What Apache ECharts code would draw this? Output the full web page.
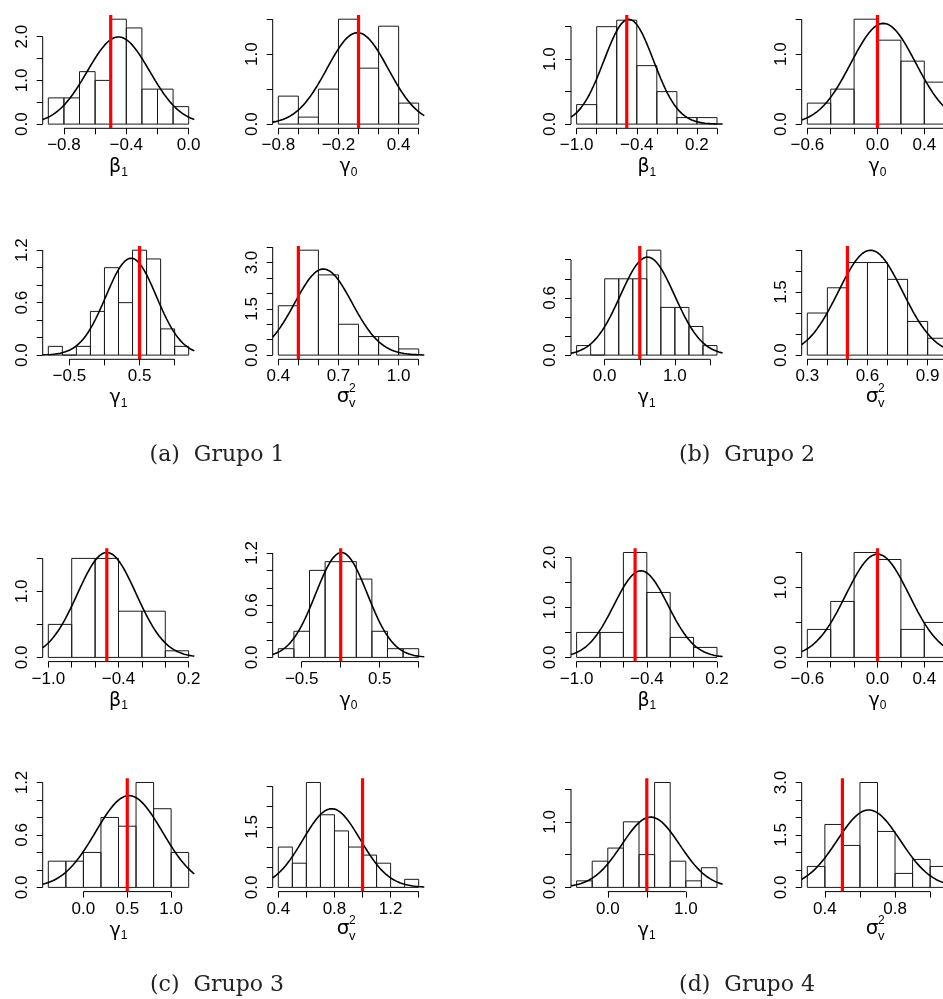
<!DOCTYPE html>
<html><head><meta charset="utf-8">
<script src="https://cdn.jsdelivr.net/npm/echarts@6/dist/echarts.min.js"></script>
<style>html,body{margin:0;padding:0;background:#fff}#c{width:943px;height:999px}</style>
</head><body><div id="c"></div>
<script>
// ---------- DATA ----------
// Panel order inside each group: beta1, gamma0, gamma1, sigma2_v
const axisSymbols = [['β','1'],['γ','0'],['γ','1'],['σ','v','2']];
const captions = ['(a)  Grupo 1','(b)  Grupo 2','(c)  Grupo 3','(d)  Grupo 4'];

// Group 1
const g1Breaks = [
  [-0.9,-0.8,-0.7,-0.6,-0.5,-0.4,-0.3,-0.2,-0.1,0.0],
  [-0.8,-0.6,-0.4,-0.2,0.0,0.2,0.4,0.6],
  [-0.8,-0.6,-0.4,-0.2,0.0,0.2,0.4,0.6,0.8,1.0,1.2],
  [0.4,0.5,0.6,0.7,0.8,0.9,1.0,1.1]
];
const g1Density = [
  [0.6,0.6,1.2,1.0,2.4,2.2,0.8,0.8,0.4],
  [0.4,0.1,0.5,1.5,0.8,1.4,0.3],
  [0.1,0.0,0.1,0.5,1.0,0.6,1.2,1.1,0.3,0.1],
  [1.6,3.4,2.6,1.0,0.6,0.6,0.2]
];
const g1TrueValue = [-0.5, 0.0, 0.5, 0.5];
const g1CurveMean = [-0.45, -0.01, 0.38, 0.625];
const g1CurveSd   = [0.20, 0.305, 0.36, 0.143];
const g1XTicks  = [[-0.8,-0.6,-0.4,-0.2,0.0],[-0.8,-0.6,-0.4,-0.2,0.0,0.2,0.4,0.6],[-0.5,0.0,0.5,1.0],[0.4,0.5,0.6,0.7,0.8,0.9,1.0,1.1]];
const g1XLabels = [[-0.8,-0.4,0.0],[-0.8,-0.2,0.4],[-0.5,0.5],[0.4,0.7,1.0]];
const g1YTicks  = [[0,0.5,1.0,1.5,2.0],[0,0.5,1.0,1.5],[0,0.2,0.4,0.6,0.8,1.0,1.2],[0,0.5,1.0,1.5,2.0,2.5,3.0,3.5]];
const g1YLabels = [[0,1.0,2.0],[0,1.0],[0,0.6,1.2],[0,1.5,3.0]];

// Group 2
const g2Breaks = [
  [-1.0,-0.8,-0.6,-0.4,-0.2,0.0,0.2,0.4],
  [-0.6,-0.4,-0.2,0.0,0.2,0.4,0.6],
  [-0.4,-0.2,0.0,0.2,0.4,0.6,0.8,1.0,1.2,1.4,1.6],
  [0.3,0.4,0.5,0.6,0.7,0.8,0.9,1.0]
];
const g2Density = [
  [0.3,1.5,1.6,0.9,0.5,0.1,0.1],
  [0.3,0.5,1.5,1.2,0.9,0.6],
  [0.1,0.0,0.8,0.8,0.8,1.1,0.5,0.5,0.3,0.1],
  [1.0,1.6,2.2,2.2,1.8,0.8,0.4]
];
const g2TrueValue = [-0.5, 0.0, 0.5, 0.5];
const g2CurveMean = [-0.48, 0.05, 0.61, 0.615];
const g2CurveSd   = [0.247, 0.277, 0.388, 0.16];
const g2XTicks  = [[-1.0,-0.8,-0.6,-0.4,-0.2,0.0,0.2,0.4],[-0.6,-0.4,-0.2,0.0,0.2,0.4,0.6],[0.0,0.5,1.0,1.5],[0.3,0.4,0.5,0.6,0.7,0.8,0.9,1.0]];
const g2XLabels = [[-1.0,-0.4,0.2],[-0.6,0.0,0.4],[0.0,1.0],[0.3,0.6,0.9]];
const g2YTicks  = [[0,0.5,1.0,1.5],[0,0.5,1.0,1.5],[0,0.2,0.4,0.6,0.8,1.0],[0,0.5,1.0,1.5,2.0,2.5]];
const g2YLabels = [[0,1.0],[0,1.0],[0,0.6],[0,1.5]];

// Group 3
const g3Breaks = [
  [-1.0,-0.8,-0.6,-0.4,-0.2,0.0,0.2],
  [-0.8,-0.6,-0.4,-0.2,0.0,0.2,0.4,0.6,0.8,1.0],
  [-0.4,-0.2,0.0,0.2,0.4,0.6,0.8,1.0,1.2],
  [0.4,0.5,0.6,0.7,0.8,0.9,1.0,1.1,1.2,1.3,1.4]
];
const g3Density = [
  [0.5,1.5,1.5,0.7,0.7,0.1],
  [0.1,0.3,1.0,1.1,1.1,0.9,0.3,0.1,0.1],
  [0.3,0.3,0.4,0.8,0.7,1.2,0.9,0.4],
  [1.0,0.6,2.6,1.8,1.4,1.0,0.8,0.6,0.0,0.2]
];
const g3TrueValue = [-0.5, 0.0, 0.5, 1.0];
const g3CurveMean = [-0.5, 0.01, 0.52, 0.78];
const g3CurveSd   = [0.251, 0.331, 0.38, 0.2045];
const g3XTicks  = [[-1.0,-0.8,-0.6,-0.4,-0.2,0.0,0.2],[-0.5,0.0,0.5,1.0],[0.0,0.5,1.0],[0.4,0.6,0.8,1.0,1.2,1.4]];
const g3XLabels = [[-1.0,-0.4,0.2],[-0.5,0.5],[0.0,0.5,1.0],[0.4,0.8,1.2]];
const g3YTicks  = [[0,0.5,1.0,1.5],[0,0.2,0.4,0.6,0.8,1.0,1.2],[0,0.2,0.4,0.6,0.8,1.0,1.2],[0,0.5,1.0,1.5,2.0,2.5]];
const g3YLabels = [[0,1.0],[0,0.6,1.2],[0,0.6,1.2],[0,1.5]];

// Group 4
const g4Breaks = [
  [-1.0,-0.8,-0.6,-0.4,-0.2,0.0,0.2],
  [-0.6,-0.4,-0.2,0.0,0.2,0.4,0.6],
  [-0.4,-0.2,0.0,0.2,0.4,0.6,0.8,1.0,1.2,1.4],
  [0.3,0.4,0.5,0.6,0.7,0.8,0.9,1.0,1.1]
];
const g4Density = [
  [0.5,0.5,2.1,1.3,0.4,0.2],
  [0.4,0.8,1.5,1.4,0.4,0.5],
  [0.1,0.4,0.6,1.0,0.5,1.6,0.4,0.1,0.3],
  [0.6,1.8,1.2,3.0,1.6,0.4,0.8,0.6]
];
const g4TrueValue = [-0.5, 0.0, 0.5, 0.5];
const g4CurveMean = [-0.45, 0.0, 0.55, 0.65];
const g4CurveSd   = [0.23, 0.27, 0.372, 0.18];
const g4XTicks  = [[-1.0,-0.8,-0.6,-0.4,-0.2,0.0,0.2],[-0.6,-0.4,-0.2,0.0,0.2,0.4,0.6],[0.0,0.5,1.0],[0.4,0.6,0.8,1.0]];
const g4XLabels = [[-1.0,-0.4,0.2],[-0.6,0.0,0.4],[0.0,1.0],[0.4,0.8]];
const g4YTicks  = [[0,0.5,1.0,1.5,2.0],[0,0.5,1.0,1.5],[0,0.5,1.0,1.5],[0,0.5,1.0,1.5,2.0,2.5,3.0]];
const g4YLabels = [[0,1.0,2.0],[0,1.0],[0,1.0],[0,1.5,3.0]];

// ---------- LAYOUT ----------
const panelW = 151.6, panelH = 113.3;
const colLeft = [42.7, 272.7, 571.0, 801.7];
const rowTop  = [15.0, 246.0, 548.3, 778.3];
const captionX = [217, 747, 217, 747];
const captionY = [455, 455, 985, 985];

const groups = [
  [g1Breaks,g1Density,g1TrueValue,g1CurveMean,g1CurveSd,g1XTicks,g1XLabels,g1YTicks,g1YLabels],
  [g2Breaks,g2Density,g2TrueValue,g2CurveMean,g2CurveSd,g2XTicks,g2XLabels,g2YTicks,g2YLabels],
  [g3Breaks,g3Density,g3TrueValue,g3CurveMean,g3CurveSd,g3XTicks,g3XLabels,g3YTicks,g3YLabels],
  [g4Breaks,g4Density,g4TrueValue,g4CurveMean,g4CurveSd,g4XTicks,g4XLabels,g4YTicks,g4YLabels]
];

const fmt = v => (v < -1e-9 ? '\u2212' : '') + Math.abs(v).toFixed(1);
const tickFont = {fontSize:17, fontFamily:'Liberation Sans, Arial, sans-serif', color:'#000'};
const dnorm = (x, m, s) => Math.exp(-0.5*((x-m)/s)*((x-m)/s)) / (s*Math.sqrt(2*Math.PI));

const grids = [], xAxes = [], yAxes = [], series = [], graphics = [];

groups.forEach((G, g) => {
  const [B, D, TV, MU, SD, XT, XL, YT, YL] = G;
  for (let p = 0; p < 4; p++) {
    const idx = g*4 + p;
    const col = (g%2)*2 + (p%2);
    const row = Math.floor(g/2)*2 + Math.floor(p/2);
    const L = colLeft[col], T = rowTop[row];
    const br = B[p], dn = D[p];
    const lo = br[0], hi = br[br.length-1];
    const xmin = lo - 0.04*(hi-lo), xmax = hi + 0.04*(hi-lo);
    const peak = 1/(SD[p]*Math.sqrt(2*Math.PI));
    const ymax = Math.max(Math.max.apply(null, dn), peak);
    const ymin = -0.04*ymax, ytop = 1.04*ymax;

    grids.push({left:L, top:T, width:panelW, height:panelH, containLabel:false, outerBoundsMode:'none', show:false});

    const sym = axisSymbols[p];
    const isSigma = sym.length === 3;
    xAxes.push({
      gridIndex: idx, type:'value', min:xmin, max:xmax, position:'bottom',
      axisLine:{show:false, onZero:false}, splitLine:{show:false},
      axisTick:{show:true, length:6, customValues: XT[p], lineStyle:{color:'#000', width:1}},
      axisLabel:Object.assign({show:true, customValues: XL[p], formatter: fmt, margin:9}, tickFont),
      name: isSigma ? '' : '{g|' + sym[0] + '}{s|' + sym[1] + '}',
      nameLocation:'middle', nameGap:28,
      nameTextStyle:{rich:{
        g:{fontSize:19, fontFamily:'DejaVu Sans', lineHeight:22, color:'#000'},
        s:{fontSize:12, fontFamily:'Liberation Sans', lineHeight:12, verticalAlign:'bottom', color:'#000'}
      }}
    });
    yAxes.push({
      gridIndex: idx, type:'value', min:ymin, max:ytop, position:'left',
      axisLine:{show:false, onZero:false}, splitLine:{show:false},
      axisTick:{show:true, length:6, customValues: YT[p], lineStyle:{color:'#000', width:1}},
      axisLabel:Object.assign({show:true, customValues: YL[p], formatter: fmt, margin:12, rotate:90}, tickFont)
    });

    // histogram bars
    const bars = dn.map((h, k) => [br[k], br[k+1], h]);
    series.push({
      type:'custom', xAxisIndex:idx, yAxisIndex:idx, data:bars, silent:true,
      renderItem:(params, api) => {
        const a = api.coord([api.value(0), api.value(2)]);
        const b = api.coord([api.value(1), 0]);
        return {type:'rect', shape:{x:a[0], y:a[1], width:b[0]-a[0], height:b[1]-a[1]},
                style:{fill:'none', stroke:'#1a1a1a', lineWidth:1}};
      }
    });
    // axis lines (R style: only between first and last tick)
    const xt = XT[p], yt = YT[p];
    series.push({type:'line', xAxisIndex:idx, yAxisIndex:idx, clip:false, silent:true, showSymbol:false,
      data:[[xt[0], ymin],[xt[xt.length-1], ymin]], lineStyle:{color:'#000', width:1}});
    series.push({type:'line', xAxisIndex:idx, yAxisIndex:idx, clip:false, silent:true, showSymbol:false,
      data:[[xmin, yt[0]],[xmin, yt[yt.length-1]]], lineStyle:{color:'#000', width:1}});
    // fitted normal density curve
    const n = 120, curve = [];
    for (let i = 0; i <= n; i++) {
      const x = xmin + (xmax - xmin)*i/n;
      curve.push([x, dnorm(x, MU[p], SD[p])]);
    }
    series.push({type:'line', xAxisIndex:idx, yAxisIndex:idx, data:curve, showSymbol:false, silent:true,
      clip:true, lineStyle:{color:'#000', width:1.6}});
    // true value (red vertical line)
    series.push({type:'line', xAxisIndex:idx, yAxisIndex:idx, showSymbol:false, silent:true, clip:false,
      data:[[TV[p], ymin],[TV[p], ytop]], lineStyle:{color:'#ff0000', width:3.2}, z:5});

    if (isSigma) {
      const cx = L + panelW/2, ay = T + panelH;
      graphics.push({type:'text', x:cx-5.5, y:ay+37.5, style:{text:'σ', fontSize:20, fontFamily:'DejaVu Sans', fill:'#000', align:'center', verticalAlign:'middle'}});
      graphics.push({type:'text', x:cx+0.5, y:ay+29.5, style:{text:sym[2], fontSize:12, fontFamily:'Liberation Sans', fill:'#000', align:'left', verticalAlign:'middle'}});
      graphics.push({type:'text', x:cx+0.5, y:ay+44.5, style:{text:sym[1], fontSize:13, fontFamily:'Liberation Sans', fill:'#000', align:'left', verticalAlign:'middle'}});
    }
  }
  graphics.push({type:'text', x:captionX[g], y:captionY[g],
    style:{text:captions[g], fontSize:22, fontFamily:'DejaVu Serif', fill:'#222', align:'center', verticalAlign:'middle'}});
});

const chart = echarts.init(document.getElementById('c'), null, {renderer:'canvas'});
chart.setOption({
  animation:false,
  backgroundColor:'#fff',
  grid:grids, xAxis:xAxes, yAxis:yAxes, series:series,
  graphic:{elements:graphics}
});
</script></body></html>
